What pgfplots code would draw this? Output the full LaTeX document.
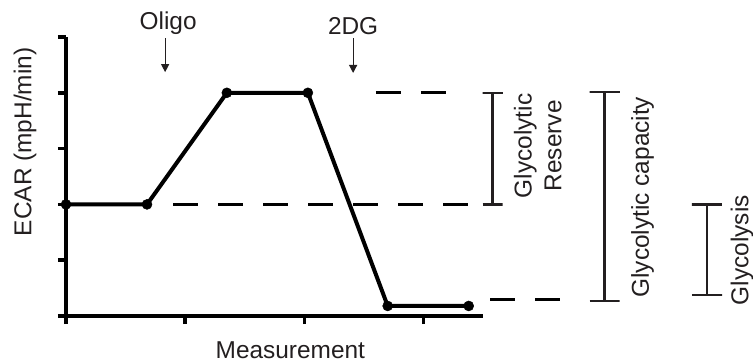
\documentclass[border=0pt]{standalone}
\usepackage{pgfplots}
\pgfplotsset{compat=1.18}
\usetikzlibrary{arrows.meta}
\usepackage{fontspec}
\setmainfont{Liberation Sans}
\definecolor{ink}{HTML}{231F20}
\begin{document}
\begin{tikzpicture}[font=\fontsize{24.5}{30}\selectfont]
\useasboundingbox (-66bp,-46bp) rectangle (687bp,316bp);
\begin{axis}[
  at={(0,0)}, anchor=south west,
  scale only axis, width=417bp, height=279bp,
  xmin=0, xmax=3.5, ymin=0, ymax=5,
  axis lines*=left,
  axis line style={line width=4bp, black},
  xtick={0,1,2,3}, ytick={0,1,2,3,4,5},
  xticklabels={}, yticklabels={},
  tick align=outside, major tick length=8bp,
  tick style={line width=3.5bp, black},
  clip=false,
  xlabel={Measurement}, ylabel={ECAR (mpH/min)},
  xlabel style={at={(axis description cs:0.538,-0.122)}, anchor=center, text=ink},
  ylabel style={at={(axis description cs:-0.098,0.624)}, anchor=center, text=ink},
]
% ECAR trace
\addplot[line width=4bp, black, mark=*, mark size=5bp, mark options={solid, fill=black, line width=0.5bp}]
  coordinates {(0,2) (0.68,2) (1.35,4) (2.03,4) (2.7,0.18) (3.38,0.18)};
% dashed reference levels
\addplot[line width=2.7bp, black, dash pattern=on 25bp off 20bp] coordinates {(0.9,2) (3.45,2)};
\addplot[line width=2.7bp, black, dash pattern=on 25bp off 20bp] coordinates {(2.6,4) (3.31,4)};
\addplot[line width=2.7bp, black, dash pattern=on 25bp off 20bp] coordinates {(3.56,0.29) (4.19,0.29)};
% brackets
\addplot[line width=2.4bp, ink] coordinates {(3.496,2) (3.664,2) (3.58,2) (3.58,4) (3.496,4) (3.664,4)};
\addplot[line width=2.4bp, ink] coordinates {(4.394,0.27) (4.646,0.27) (4.52,0.27) (4.52,4.01) (4.394,4.01) (4.646,4.01)};
\addplot[line width=2.4bp, ink] coordinates {(5.254,0.38) (5.506,0.38) (5.38,0.38) (5.38,2.0) (5.254,2.0) (5.506,2.0)};
% injections
\draw[line width=1.2bp, ink, -{Triangle[width=8bp,length=8bp]}] (axis cs:0.832,4.98) -- (axis cs:0.832,4.37);
\draw[line width=1.2bp, ink, -{Triangle[width=8bp,length=8bp]}] (axis cs:2.41,4.98) -- (axis cs:2.41,4.355);
\node[anchor=base, text=ink] at (axis cs:0.857,5.14) {Oligo};
\node[anchor=base, text=ink] at (axis cs:2.41,5.04) {2DG};
\node[rotate=90, align=center, text=ink] at (axis cs:3.96,3.05) {Glycolytic\\Reserve};
\node[rotate=90, text=ink] at (axis cs:4.84,2.13) {Glycolytic capacity};
\node[rotate=90, text=ink] at (axis cs:5.675,1.18) {Glycolysis};
\end{axis}
\end{tikzpicture}
\end{document}
